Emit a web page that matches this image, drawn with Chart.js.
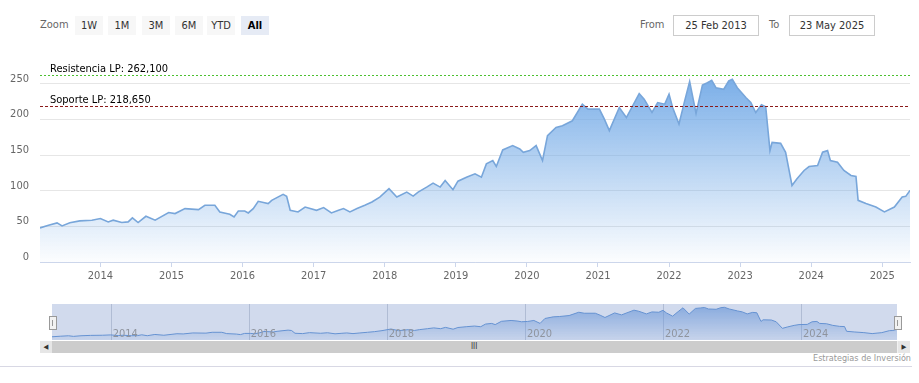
<!DOCTYPE html>
<html>
<head>
<meta charset="utf-8">
<script src="https://cdn.jsdelivr.net/npm/chart.js@4/dist/chart.umd.min.js"></script>
<style>
  body { margin: 0; background: #fff; font-family: "DejaVu Sans Condensed", "DejaVu Sans", sans-serif; }
  #wrap { position: relative; width: 919px; height: 383px; overflow: hidden; background: #fff; }
  .lbl { position: absolute; font-size: 11px; color: #666; top: 18px; }
  .btn { position: absolute; top: 16px; height: 19px; line-height: 19px; width: 28px; text-align: center;
         font-size: 11px; color: #333; background: #f7f7f7; }
  .btn.on { background: #e6ebf5; font-weight: bold; color: #000; }
  .box { position: absolute; top: 15px; height: 19px; line-height: 19px; border: 1px solid #ccc;
         font-size: 11px; color: #333; text-align: center; }
  #main { position: absolute; left: 0; top: 45px; }
  #nav { position: absolute; left: 52px; top: 304px; }
  .handle { position: absolute; top: 316px; width: 6px; height: 12px; background: #f2f2f2; border: 1px solid #999; }
  .handle i { position: absolute; top: 3px; left: 2px; width: 1px; height: 6px; background: #999; }
  #scroll { position: absolute; left: 40px; top: 341px; width: 870px; height: 12px; background: #f2f2f2; }
  #thumb { position: absolute; left: 12px; top: 0; width: 845px; height: 12px; background: #cccccc; }
  .arrow { position: absolute; top: 0; width: 12px; height: 12px; background: #e6e6e6; font-size: 7px; line-height: 12px; text-align: center; color: #333; }
  #grip { position: absolute; left: 419px; top: 0; font-size: 8px; line-height: 12px; color: #333; }
  #credit { position: absolute; right: 8px; top: 353px; font-size: 9px; color: #999; }
  #rule { position: absolute; left: 0; top: 366px; width: 912px; height: 1px; background: #d8d8e4; }
</style>
</head>
<body>
<div id="wrap">
  <div class="lbl" style="left:40px">Zoom</div>
  <div class="btn" style="left:75px">1W</div>
  <div class="btn" style="left:108px">1M</div>
  <div class="btn" style="left:142px">3M</div>
  <div class="btn" style="left:175px">6M</div>
  <div class="btn" style="left:207px">YTD</div>
  <div class="btn on" style="left:241px">All</div>
  <div class="lbl" style="left:640px">From</div>
  <div class="box" style="left:673px;width:84px">25 Feb 2013</div>
  <div class="lbl" style="left:769px">To</div>
  <div class="box" style="left:789px;width:84px">23 May 2025</div>

  <canvas id="main" width="919" height="245"></canvas>
  <canvas id="nav" width="845" height="36"></canvas>
  <div class="handle" style="left:49px"><i></i></div>
  <div class="handle" style="left:894px"><i></i></div>

  <div id="scroll">
    <div class="arrow" style="left:0">&#9664;</div>
    <div id="thumb"><div id="grip">III</div></div>
    <div class="arrow" style="right:0">&#9654;</div>
  </div>
  <div id="credit">Estrategias de Inversión</div>
  <div id="rule"></div>
</div>

<script>
// price history (decimal year, price)
const years = [
  2013.15, 2013.27, 2013.39, 2013.46, 2013.57, 2013.71, 2013.88, 2014.00, 2014.11, 2014.18,
  2014.30, 2014.39, 2014.45, 2014.53, 2014.64, 2014.77, 2014.96, 2015.05, 2015.19, 2015.38,
  2015.47, 2015.61, 2015.68, 2015.82, 2015.88, 2015.94, 2016.03, 2016.08, 2016.15, 2016.22,
  2016.36, 2016.41, 2016.57, 2016.62, 2016.67, 2016.78, 2016.88, 2017.04, 2017.14, 2017.25,
  2017.35, 2017.42, 2017.51, 2017.61, 2017.72, 2017.82, 2017.93, 2018.06, 2018.17, 2018.31,
  2018.40, 2018.47, 2018.59, 2018.68, 2018.78, 2018.85, 2018.96, 2019.03, 2019.15, 2019.27,
  2019.36, 2019.43, 2019.52, 2019.57, 2019.66, 2019.80, 2019.90, 2019.95, 2020.04, 2020.13,
  2020.22, 2020.29, 2020.41, 2020.50, 2020.64, 2020.78, 2020.86, 2021.02, 2021.09, 2021.16,
  2021.30, 2021.40, 2021.58, 2021.65, 2021.76, 2021.84, 2021.94, 2022.00, 2022.05, 2022.14,
  2022.22, 2022.29, 2022.38, 2022.47, 2022.54, 2022.60, 2022.66, 2022.77, 2022.84, 2022.89,
  2022.96, 2023.08, 2023.15, 2023.22, 2023.30, 2023.36, 2023.42, 2023.45, 2023.57, 2023.64,
  2023.73, 2023.80, 2023.90, 2023.97, 2024.09, 2024.16, 2024.23, 2024.27, 2024.37, 2024.46,
  2024.56, 2024.63, 2024.66, 2024.77, 2024.91, 2025.03, 2025.17, 2025.28, 2025.33, 2025.39
];
const prices = [
  47.9, 51.7, 54.9, 50.7, 55.0, 57.7, 58.7, 61.0, 56.3, 58.7,
  55.4, 56.3, 61.9, 55.4, 64.2, 58.7, 69.4, 68.0, 75.0, 73.6,
  79.6, 79.6, 70.3, 67.0, 63.3, 71.6, 71.6, 68.9, 75.0, 85.2,
  82.0, 86.6, 95.0, 92.2, 72.6, 70.3, 77.2, 72.6, 76.4, 68.9,
  72.6, 75.0, 70.3, 75.0, 79.6, 84.2, 91.2, 102.9, 91.2, 98.2,
  92.6, 98.2, 105.2, 110.8, 105.2, 114.5, 101.5, 113.5, 119.1, 123.9,
  119.1, 137.8, 142.5, 134.1, 157.4, 163.4, 158.8, 154.1, 156.4, 163.4,
  142.5, 177.4, 189.0, 191.3, 198.3, 221.6, 214.7, 214.7, 200.7, 184.4,
  216.9, 202.9, 236.5, 228.6, 209.9, 223.9, 221.6, 235.6, 216.9, 193.7,
  226.3, 253.2, 208.5, 248.6, 251.8, 255.2, 244.8, 242.6, 254.2, 256.6,
  244.8, 230.9, 223.9, 209.9, 220.7, 217.9, 156.4, 168.0, 166.6, 154.1,
  107.5, 116.9, 128.5, 134.1, 135.5, 154.1, 156.4, 142.5, 140.1, 128.5,
  121.5, 120.1, 86.6, 82.0, 77.2, 70.3, 77.2, 91.2, 92.2, 100.6
];

const yTicks = [0, 50, 100, 150, 200, 250];
const xTicks = [2014, 2015, 2016, 2017, 2018, 2019, 2020, 2021, 2022, 2023, 2024, 2025];
const navTicks = [2014, 2016, 2018, 2020, 2022, 2024];

const levelValues = [262.1, 218.65];
const levelNames = ['Resistencia LP: 262,100', 'Soporte LP: 218,650'];

const xMin = years[0];
const xMax = years[years.length - 1];
const points = years.map((y, i) => ({ x: y, y: prices[i] }));

const FONT = '"DejaVu Sans Condensed", "DejaVu Sans", sans-serif';

function areaGradient(context, top, bottom) {
  const area = context.chart.chartArea;
  if (!area) return top;
  const g = context.chart.ctx.createLinearGradient(0, area.top, 0, area.bottom);
  g.addColorStop(0, top);
  g.addColorStop(1, bottom);
  return g;
}

// dashed support / resistance lines with their labels
const levelLines = {
  id: 'levelLines',
  afterDatasetsDraw(chart) {
    const { ctx, chartArea } = chart;
    const y = chart.scales.y;
    const styles = [
      { color: '#4cc030', dash: [2, 2] },
      { color: '#8b1a1a', dash: [3, 2] }
    ];
    ctx.save();
    levelValues.forEach((v, i) => {
      const py = Math.round(y.getPixelForValue(v)) + 0.5;
      ctx.strokeStyle = styles[i].color;
      ctx.lineWidth = 1;
      ctx.setLineDash(styles[i].dash);
      ctx.beginPath();
      ctx.moveTo(chartArea.left, py);
      ctx.lineTo(chartArea.right, py);
      ctx.stroke();
      ctx.setLineDash([]);
      ctx.fillStyle = '#000';
      ctx.font = '11px ' + FONT;
      ctx.textBaseline = 'alphabetic';
      ctx.fillText(levelNames[i], chartArea.left + 10, py - 4);
    });
    ctx.restore();
  }
};

new Chart(document.getElementById('main'), {
  type: 'line',
  data: {
    datasets: [{
      data: points,
      borderColor: '#78a6da',
      borderWidth: 1.6,
      pointRadius: 0,
      tension: 0,
      fill: 'origin',
      backgroundColor: ctx => areaGradient(ctx, 'rgba(112,168,230,1)', 'rgba(112,168,230,0.02)')
    }]
  },
  options: {
    responsive: false,
    animation: false,
    layout: { padding: { top: 16, right: 9, left: 0, bottom: 0 } },
    plugins: { legend: { display: false }, tooltip: { enabled: false } },
    scales: {
      x: {
        type: 'linear',
        min: xMin,
        max: xMax,
        afterBuildTicks: s => { s.ticks = xTicks.map(v => ({ value: v })); },
        afterFit: s => { s.height = 28; },
        grid: { drawOnChartArea: false, tickLength: 5, color: '#ccd6eb' },
        border: { color: '#ccd6eb' },
        ticks: {
          padding: 3,
          maxRotation: 0,
          color: '#666',
          font: { family: FONT, size: 11 },
          callback: v => String(v)
        }
      },
      y: {
        min: 0,
        max: 280,
        afterBuildTicks: s => { s.ticks = yTicks.map(v => ({ value: v })); },
        afterFit: s => { s.width = 40; },
        grid: { color: '#e6e6e6', drawTicks: false },
        border: { display: false },
        ticks: {
          padding: 11,
          labelOffset: -5,
          color: '#666',
          font: { family: FONT, size: 11 }
        }
      }
    }
  },
  plugins: [levelLines]
});

// navigator: year grid, mask and labels
const navDecor = {
  id: 'navDecor',
  beforeDatasetsDraw(chart) {
    const { ctx, chartArea } = chart;
    const x = chart.scales.x;
    ctx.save();
    ctx.strokeStyle = '#d0d4dc';
    ctx.lineWidth = 1;
    navTicks.forEach(v => {
      const px = Math.round(x.getPixelForValue(v)) + 0.5;
      ctx.beginPath();
      ctx.moveTo(px, chartArea.top);
      ctx.lineTo(px, chartArea.bottom);
      ctx.stroke();
    });
    ctx.restore();
  },
  afterDatasetsDraw(chart) {
    const { ctx, chartArea } = chart;
    const x = chart.scales.x;
    ctx.save();
    ctx.fillStyle = 'rgba(102,133,194,0.3)';
    ctx.fillRect(chartArea.left, chartArea.top, chartArea.right - chartArea.left, chartArea.bottom - chartArea.top);
    ctx.fillStyle = '#8f949e';
    ctx.font = '11px ' + FONT;
    ctx.textBaseline = 'middle';
    navTicks.forEach(v => {
      ctx.fillText(String(v), x.getPixelForValue(v) + 2, chartArea.bottom - 6);
    });
    ctx.restore();
  }
};

new Chart(document.getElementById('nav'), {
  type: 'line',
  data: {
    datasets: [{
      data: points,
      borderColor: '#6598d8',
      borderWidth: 1,
      pointRadius: 0,
      tension: 0,
      fill: 'start',
      backgroundColor: ctx => areaGradient(ctx, 'rgba(110,160,225,0.75)', 'rgba(110,160,225,0.1)')
    }]
  },
  options: {
    responsive: false,
    animation: false,
    layout: { padding: 0 },
    plugins: { legend: { display: false }, tooltip: { enabled: false } },
    scales: {
      x: { type: 'linear', min: xMin, max: xMax, display: false },
      y: { min: 25, max: 280, display: false }
    }
  },
  plugins: [navDecor]
});
</script>
</body>
</html>
